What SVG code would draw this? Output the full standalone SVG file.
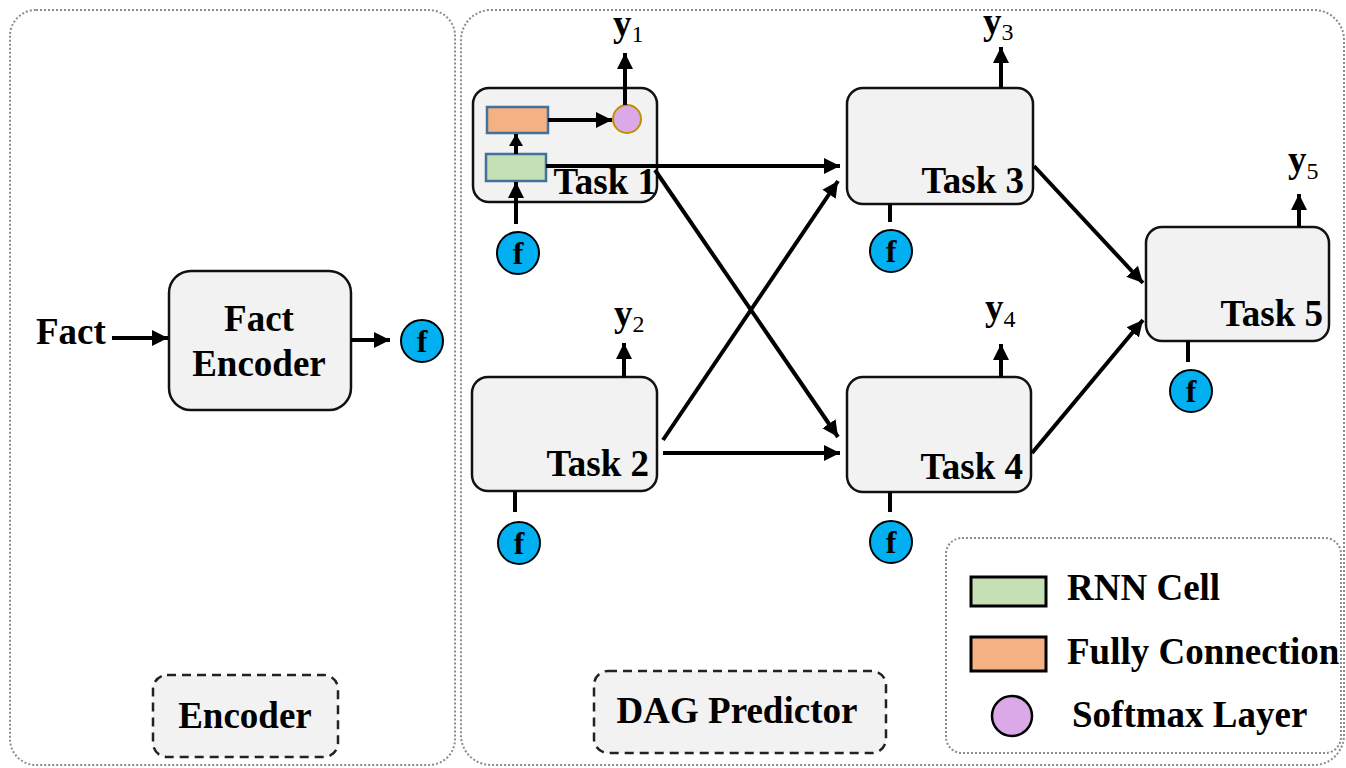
<svg xmlns="http://www.w3.org/2000/svg" width="1346" height="768" viewBox="0 0 1346 768">
<style>
text{font-family:"Liberation Serif","Times New Roman",serif;font-weight:bold;fill:#000}
.lbl{font-size:37px}
.cont{fill:none;stroke:#8c8c8c;stroke-width:2;stroke-dasharray:2 2}
.box{fill:#f2f2f2;stroke:#111;stroke-width:2.5}
.dash{fill:#f2f2f2;stroke:#222;stroke-width:2.5;stroke-dasharray:9 6}
.fc{fill:#00b0f0;stroke:#000;stroke-width:2}
.ft{font-size:32px;text-anchor:middle}
.ln{stroke:#000;stroke-width:4;fill:none}
.ar{marker-end:url(#ah)}
.ars{marker-end:url(#ahs)}
.sub{font-size:24px;font-weight:normal}
</style>
<defs>
<marker id="ah" markerUnits="userSpaceOnUse" markerWidth="18" markerHeight="18" refX="16" refY="9" orient="auto">
<path d="M0,1 L16,9 L0,17 z" fill="#000"/>
</marker>
<marker id="ahs" markerUnits="userSpaceOnUse" markerWidth="14" markerHeight="14" refX="12" refY="7" orient="auto">
<path d="M0,0 L12,7 L0,14 z" fill="#000"/>
</marker>
</defs>

<g id="encoder-container">
<rect class="cont" x="10" y="10" width="445" height="755" rx="26"/>
</g>
<g id="dag-container">
<rect class="cont" x="461" y="10" width="883" height="755" rx="30"/>
</g>

<g id="fact-input">
<text class="lbl" x="36" y="344">Fact</text>
</g>
<g id="fact-encoder">
<rect class="box" x="169" y="271" width="182" height="139" rx="22"/>
<text class="lbl" x="259" y="331" text-anchor="middle">Fact</text>
<text class="lbl" x="259" y="376" text-anchor="middle">Encoder</text>
</g>
<g id="f-encoder">
<circle class="fc" cx="422" cy="341" r="21"/>
<text class="ft" x="422" y="352">f</text>
</g>

<g id="task1">
<rect class="box" x="473" y="88" width="184" height="114" rx="16"/>
<rect x="487" y="107" width="61" height="26" fill="#f4b183" stroke="#41719c" stroke-width="2.5"/>
<rect x="486" y="154" width="60" height="27" fill="#c5e0b4" stroke="#41719c" stroke-width="2.5"/>
<circle cx="627" cy="119" r="14" fill="#dba9e8" stroke="#bf9000" stroke-width="2"/>
<text class="lbl" x="656" y="194" text-anchor="end">Task 1</text>
</g>
<g id="f1">
<circle class="fc" cx="518" cy="253" r="21"/>
<text class="ft" x="518" y="264">f</text>
</g>
<g id="y1">
<text class="lbl" x="613" y="36">y<tspan class="sub" dy="6">1</tspan></text>
</g>

<g id="task2">
<rect class="box" x="472" y="377" width="185" height="114" rx="16"/>
<text class="lbl" x="649" y="476" text-anchor="end">Task 2</text>
</g>
<g id="f2">
<circle class="fc" cx="519" cy="543" r="21"/>
<text class="ft" x="519" y="554">f</text>
</g>
<g id="y2">
<text class="lbl" x="614" y="326">y<tspan class="sub" dy="6">2</tspan></text>
</g>

<g id="task3">
<rect class="box" x="847" y="88" width="186" height="116" rx="16"/>
<text class="lbl" x="1024" y="193" text-anchor="end">Task 3</text>
</g>
<g id="f3">
<circle class="fc" cx="891" cy="251" r="21"/>
<text class="ft" x="891" y="262">f</text>
</g>
<g id="y3">
<text class="lbl" x="983" y="34">y<tspan class="sub" dy="6">3</tspan></text>
</g>

<g id="task4">
<rect class="box" x="847" y="377" width="184" height="115" rx="16"/>
<text class="lbl" x="1023" y="479" text-anchor="end">Task 4</text>
</g>
<g id="f4">
<circle class="fc" cx="891" cy="542" r="21"/>
<text class="ft" x="891" y="553">f</text>
</g>
<g id="y4">
<text class="lbl" x="985" y="320">y<tspan class="sub" dy="7">4</tspan></text>
</g>

<g id="task5">
<rect class="box" x="1146" y="227" width="183" height="114" rx="16"/>
<text class="lbl" x="1323" y="326" text-anchor="end">Task 5</text>
</g>
<g id="f5">
<circle class="fc" cx="1191" cy="391" r="21"/>
<text class="ft" x="1191" y="402">f</text>
</g>
<g id="y5">
<text class="lbl" x="1288" y="172">y<tspan class="sub" dy="7">5</tspan></text>
</g>

<g id="encoder-label">
<rect class="dash" x="153" y="675" width="185" height="82" rx="14"/>
<text class="lbl" x="245" y="728" text-anchor="middle">Encoder</text>
</g>
<g id="dag-label">
<rect class="dash" x="594" y="671" width="292" height="82" rx="14"/>
<text class="lbl" x="737" y="723" text-anchor="middle">DAG Predictor</text>
</g>

<g id="legend">
<rect class="cont" x="946" y="538" width="395" height="215" rx="16"/>
<rect x="971" y="577" width="75" height="29" fill="#c5e0b4" stroke="#000" stroke-width="3"/>
<text class="lbl" x="1067" y="600">RNN Cell</text>
<rect x="971" y="637" width="75" height="34" fill="#f4b183" stroke="#000" stroke-width="3"/>
<text class="lbl" x="1067" y="664">Fully Connection</text>
<circle cx="1012" cy="716" r="20" fill="#dba9e8" stroke="#000" stroke-width="2.5"/>
<text class="lbl" x="1072" y="727">Softmax Layer</text>
</g>

<g id="connectors">
<line class="ln ar" x1="112" y1="338" x2="168" y2="338"/>
<line class="ln ar" x1="351" y1="340" x2="390" y2="340"/>
<line class="ln ar" x1="516" y1="224" x2="516" y2="182"/>
<line class="ln ars" x1="516" y1="154" x2="516" y2="134"/>
<line class="ln ar" x1="548" y1="120" x2="612" y2="120"/>
<line class="ln ar" x1="625" y1="105" x2="625" y2="53"/>
<line class="ln ar" x1="546" y1="166" x2="840" y2="166"/>
<line class="ln ar" x1="655" y1="170" x2="838" y2="437"/>
<line class="ln ar" x1="663" y1="440" x2="838" y2="181"/>
<line class="ln ar" x1="663" y1="453" x2="840" y2="453"/>
<line class="ln ar" x1="624" y1="377" x2="624" y2="343"/>
<line class="ln ar" x1="1001" y1="88" x2="1001" y2="47"/>
<line class="ln ar" x1="1001" y1="377" x2="1001" y2="344"/>
<line class="ln ar" x1="1299" y1="227" x2="1299" y2="194"/>
<line class="ln ar" x1="1034" y1="166" x2="1143" y2="283"/>
<line class="ln ar" x1="1032" y1="453" x2="1143" y2="320"/>
<line class="ln" x1="515" y1="491" x2="515" y2="512"/>
<line class="ln" x1="890" y1="204" x2="890" y2="222"/>
<line class="ln" x1="890" y1="492" x2="890" y2="512"/>
<line class="ln" x1="1188" y1="341" x2="1188" y2="362"/>
</g>
</svg>
